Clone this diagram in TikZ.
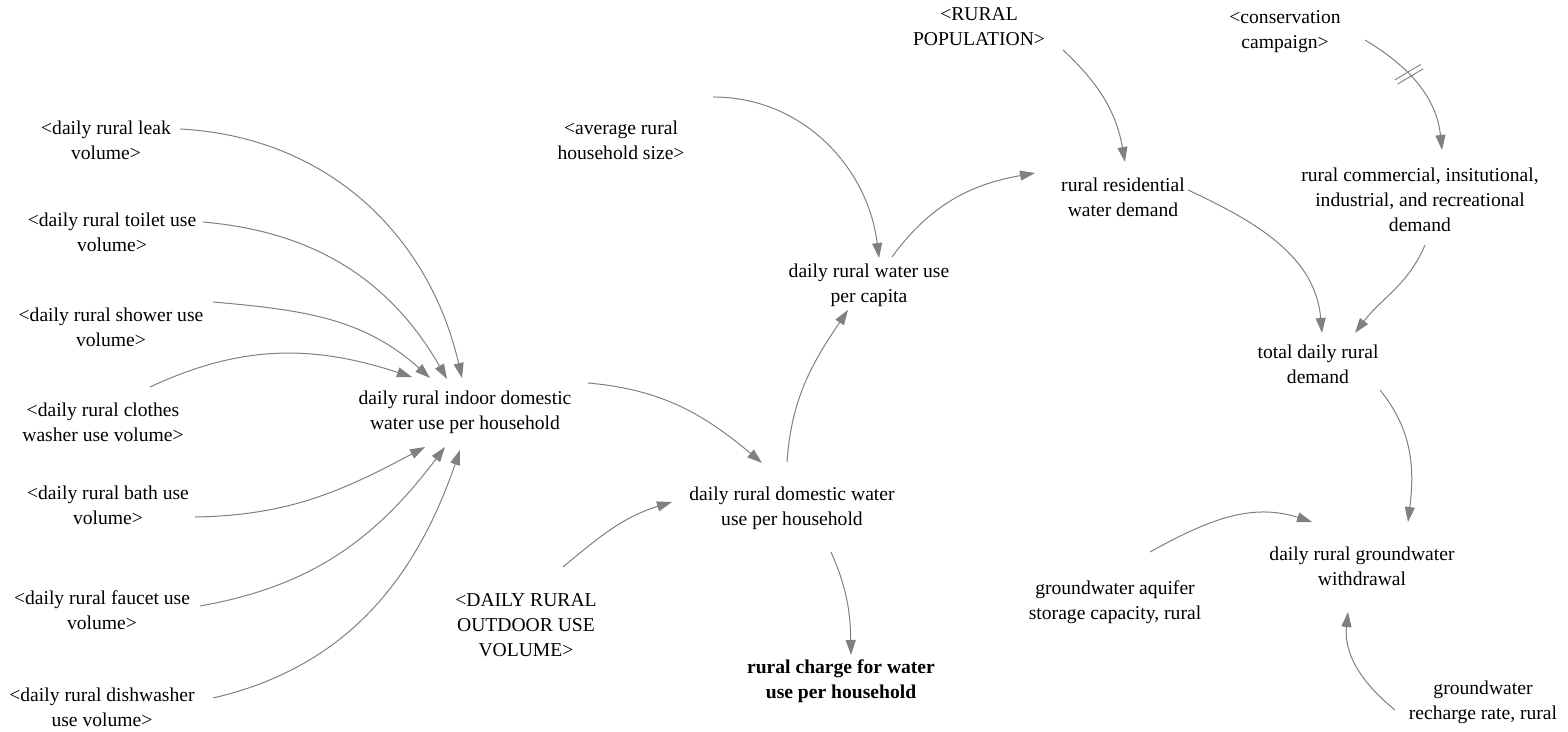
\documentclass[tikz,border=0pt]{standalone}
\usepackage{fontspec}
\setmainfont{Liberation Serif}
\usetikzlibrary{arrows.meta,decorations.markings}
\definecolor{linkgray}{RGB}{128,128,128}
\begin{document}
\begin{tikzpicture}[x=1pt,y=1pt,
  var/.style={align=center,font=\fontsize{19.6}{25}\selectfont,inner sep=0pt},
  link/.style={draw=linkgray,line width=1pt,-{Triangle[length=15pt,width=10pt]}},
  delaymark/.style={postaction={decorate},decoration={markings,
    mark=at position #1 with {\draw[linkgray,-,line width=0.9pt,rotate=-12]
      (-2.5,-15)--(-2.5,15) (2.5,-15)--(2.5,15);}}}
]
\useasboundingbox (0,0) rectangle (1568,731);

% indoor water use components
\node[var] (leak)    at (106,591) {<daily rural leak\\volume>};
\node[var] (toilet)  at (112,499) {<daily rural toilet use\\volume>};
\node[var] (shower)  at (111,404) {<daily rural shower use\\volume>};
\node[var] (clothes) at (103,309) {<daily rural clothes\\washer use volume>};
\node[var] (bath)    at (108,226) {<daily rural bath use\\volume>};
\node[var] (faucet)  at (102,121) {<daily rural faucet use\\volume>};
\node[var] (dish)    at (102,24)  {<daily rural dishwasher\\use volume>};
\node[var] (indoor)  at (465,319) {daily rural indoor domestic\\water use per household};

% household and per capita use
\node[var] (avg)      at (621,591) {<average rural\\household size>};
\node[var] (percap)   at (869,446) {daily rural water use\\per capita};
\node[var] (domestic) at (792,223) {daily rural domestic water\\use per household};
\node[var] (outdoor)  at (526,106) {<DAILY RURAL\\OUTDOOR USE\\VOLUME>};
\node[var,font=\fontsize{19.6}{25}\selectfont\bfseries] (charge) at (841,50) {rural charge for water\\use per household};

% demand
\node[var] (pop)   at (979,704)  {<RURAL\\POPULATION>};
\node[var] (resid) at (1123,534) {rural residential\\water demand};
\node[var] (consv) at (1285,699) {<conservation\\campaign>};
\node[var] (comm)  at (1420,531) {rural commercial, insitutional,\\industrial, and recreational\\demand};
\node[var] (total) at (1318,367) {total daily rural\\demand};

% groundwater
\node[var] (gww)      at (1362,165) {daily rural groundwater\\withdrawal};
\node[var] (aquifer)  at (1115,129) {groundwater aquifer\\storage capacity, rural};
\node[var] (recharge) at (1483,29)  {groundwater\\recharge rate, rural};

% links into indoor use
\draw[link] ([shift={(74,11)}]leak.center)    to[out=-3,in=103]  ([shift={(-3,34)}]indoor.center);
\draw[link] ([shift={(91,10)}]toilet.center)  to[out=-5,in=120]  ([shift={(-18,33)}]indoor.center);
\draw[link] ([shift={(102,25)}]shower.center) to[out=-5,in=138]  ([shift={(-35,34)}]indoor.center);
\draw[link] ([shift={(47,35)}]clothes.center) to[out=25,in=162]  ([shift={(-53,35)}]indoor.center);
\draw[link] ([shift={(87,-12)}]bath.center)   to[out=1,in=208]   ([shift={(-40,-35)}]indoor.center);
\draw[link] ([shift={(98,4)}]faucet.center)   to[out=10,in=233]  ([shift={(-20,-35)}]indoor.center);
\draw[link] ([shift={(111,9)}]dish.center)    to[out=13,in=251]  ([shift={(-5,-38)}]indoor.center);

% household and per capita links
\draw[link] ([shift={(123,29)}]indoor.center)  to[out=-5,in=140]  ([shift={(-30,45)}]domestic.center);
\draw[link] ([shift={(37,58)}]outdoor.center)  to[out=40,in=197]  ([shift={(-120,6)}]domestic.center);
\draw[link] ([shift={(39,-44)}]domestic.center) to[out=-66,in=91] ([shift={(10,26)}]charge.center);
\draw[link] ([shift={(-5,46)}]domestic.center) to[out=86,in=236]  ([shift={(-21,-25)}]percap.center);
\draw[link] ([shift={(92,43)}]avg.center)      to[out=0,in=97]    ([shift={(10,27)}]percap.center);
\draw[link] ([shift={(23,28)}]percap.center)   to[out=54,in=190]  ([shift={(-88,24)}]resid.center);

% demand links
\draw[link] ([shift={(84,-23)}]pop.center)     to[out=-43,in=100] ([shift={(2,35)}]resid.center);
\draw[link,delaymark=0.4] ([shift={(80,-8)}]consv.center) to[out=-31,in=96] ([shift={(22,50)}]comm.center);
\draw[link] ([shift={(65,7)}]resid.center)     to[out=-25,in=95]  ([shift={(4,31)}]total.center);
\draw[link] ([shift={(5,-45)}]comm.center)     to[out=247,in=53]  ([shift={(37,31)}]total.center);

% groundwater links
\draw[link] ([shift={(62,-26)}]total.center)   to[out=-51,in=83]  ([shift={(46,44)}]gww.center);
\draw[link] ([shift={(35,50)}]aquifer.center)  to[out=29,in=162]  ([shift={(-50,44)}]gww.center);
\draw[link] ([shift={(-88,-8)}]recharge.center) to[out=141,in=264] ([shift={(-14,-46)}]gww.center);
\end{tikzpicture}
\end{document}
